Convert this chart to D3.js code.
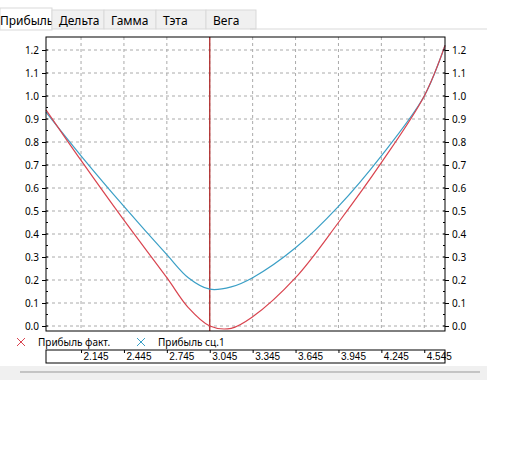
<!DOCTYPE html><html><head><meta charset="utf-8"><script src="https://cdn.jsdelivr.net/npm/d3@7"></script>
<style>body{margin:0;background:#fff;font-family:"Segoe UI","Noto Sans",sans-serif}</style></head><body><svg id="c" width="510" height="454"></svg>
<script>
const tabs=["Прибыль","Дельта","Гамма","Тэта","Вега"];
const xs=[1.9,2.145,2.445,2.745,2.895,3.045,3.195,3.345,3.645,3.945,4.245,4.545,4.69];
const fact=[0.94,0.72,0.46,0.21,0.08,0.0,-0.01,0.04,0.21,0.45,0.71,1.0,1.22];
const sc1=[0.93,0.74,0.52,0.31,0.21,0.16,0.17,0.21,0.34,0.52,0.74,1.0,1.22];
const xTicks=[2.145,2.445,2.745,3.045,3.345,3.645,3.945,4.245,4.545];
const yTicks=d3.range(0,13).map(i=>i/10);
const svg=d3.select("#c");
svg.append("rect").attr("x",0).attr("y",366).attr("width",487).attr("height",14).attr("fill","#f0f0f0");
svg.append("line").attr("x1",20).attr("x2",480).attr("y1",372).attr("y2",372).attr("stroke","#999");
const tw=[52,52,52,50,50];let tx=0;
tabs.forEach((t,i)=>{const w=tw[i];const g=svg.append("g");
 g.append("rect").attr("x",tx).attr("y",i==0?8:10).attr("width",w).attr("height",i==0?22:19).attr("fill",i==0?"#fff":"#f0f0f0").attr("stroke","#d9d9d9");
 g.append("text").attr("x",tx+(i==0?0:7)).attr("y",25).attr("font-size",12).attr("fill","#000").text(t);tx+=w;});
svg.append("line").attr("x1",250).attr("x2",487).attr("y1",29).attr("y2",29).attr("stroke","#d9d9d9");
const L=46,R=445,T=37,B=331;
const x=d3.scaleLinear().domain([1.9,4.69]).range([L,R]);
const y=d3.scaleLinear().domain([0,1.2]).range([326,50]);
const g=svg.append("g");
xTicks.forEach(v=>g.append("line").attr("x1",x(v)).attr("x2",x(v)).attr("y1",T).attr("y2",B).attr("stroke","#aaa").attr("stroke-dasharray","3,3"));
yTicks.forEach(v=>g.append("line").attr("x1",L).attr("x2",R).attr("y1",y(v)).attr("y2",y(v)).attr("stroke","#aaa").attr("stroke-dasharray","3,3"));
g.append("line").attr("x1",x(3.045)).attr("x2",x(3.045)).attr("y1",T).attr("y2",B).attr("stroke","#b02a2a").attr("stroke-width",1.3);
const line=d3.line().x((d,i)=>x(xs[i])).y(d=>y(d)).curve(d3.curveCatmullRom.alpha(0.5));
g.append("path").attr("d",line(sc1)).attr("fill","none").attr("stroke","#3a9fc6").attr("stroke-width",1.2);
g.append("path").attr("d",line(fact)).attr("fill","none").attr("stroke","#d9444f").attr("stroke-width",1.2);
g.append("rect").attr("x",L).attr("y",T).attr("width",R-L).attr("height",B-T).attr("fill","none").attr("stroke","#000");
const ya=svg.append("g").attr("transform",`translate(${L},0)`).call(d3.axisLeft(y).tickValues(yTicks).tickFormat(d3.format(".1f")).tickSize(4).tickSizeOuter(0));
const yb=svg.append("g").attr("transform",`translate(${R},0)`).call(d3.axisRight(y).tickValues(yTicks).tickFormat(d3.format(".1f")).tickSize(4).tickSizeOuter(0));
[ya,yb].forEach(a=>{a.select(".domain").remove();a.selectAll("text").attr("font-size",10).attr("font-family","Segoe UI,Noto Sans,sans-serif");});
d3.range(0,1.21,0.05).forEach(v=>{svg.append("line").attr("x1",L).attr("x2",L+2).attr("y1",y(v)).attr("y2",y(v)).attr("stroke","#000");svg.append("line").attr("x1",R-2).attr("x2",R).attr("y1",y(v)).attr("y2",y(v)).attr("stroke","#000");});
const leg=[["Прибыль факт.","#d9444f",21],["Прибыль сц.1","#3a9fc6",141]];
leg.forEach(([t,c,lx])=>{const m=svg.append("g").attr("stroke",c).attr("stroke-width",1);
 m.append("line").attr("x1",lx-4).attr("x2",lx+4).attr("y1",338).attr("y2",346);
 m.append("line").attr("x1",lx-4).attr("x2",lx+4).attr("y1",346).attr("y2",338);
 svg.append("text").attr("x",lx+17).attr("y",346).attr("font-size",10).attr("fill","#000").text(t);});
svg.append("rect").attr("x",L).attr("y",350).attr("width",R-L).attr("height",13).attr("fill","none").attr("stroke","#000");
const xa=svg.append("g").attr("transform","translate(0,350)").call(d3.axisBottom(x).tickValues(xTicks).tickFormat(d3.format(".3f")).tickSize(3).tickSizeOuter(0));
xa.select(".domain").remove();
xa.selectAll("text").attr("font-size",10).attr("text-anchor","start").attr("x",2).attr("y",3).attr("dy","0.71em");
</script></body></html>
